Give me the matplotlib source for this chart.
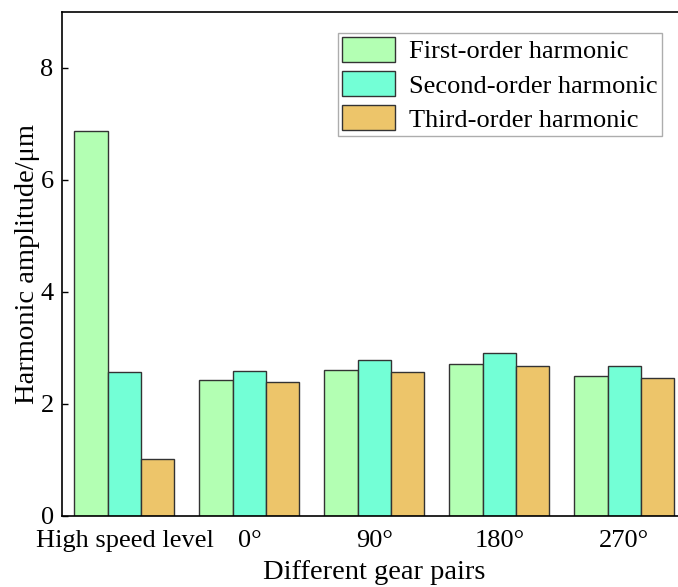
import matplotlib
matplotlib.use("Agg")
import matplotlib.pyplot as plt
import numpy as np

categories = ["High speed level", "0°", "90°", "180°", "270°"]
series_names = ["First-order harmonic", "Second-order harmonic", "Third-order harmonic"]
first = [6.87, 2.42, 2.60, 2.71, 2.50]
second = [2.58, 2.59, 2.79, 2.91, 2.68]
third = [1.02, 2.40, 2.57, 2.68, 2.46]
colors = ["#B3FFB3", "#73FFD6", "#EDC56A"]

plt.rcParams['font.family'] = ['Liberation Serif', 'DejaVu Serif']
plt.rcParams['mathtext.fontset'] = 'stix'

fig = plt.figure(figsize=(6.78, 5.87), dpi=100)
ax = fig.add_axes([62/678, 71/587, 1 - 62/678 + 0.013, (516-12)/587])

x = np.arange(len(categories))
w = 0.8/3
for i, (vals, name, c) in enumerate(zip([first, second, third], series_names, colors)):
    ax.bar(x + (i-1)*w, vals, w, color=c, edgecolor="#333333", linewidth=1.0, label=name)

ax.set_xlim(-0.5, 4.5)
ax.set_ylim(0, 9)
ax.set_yticks([0, 2, 4, 6, 8])
ax.set_xticks(x)
ax.set_xticklabels(categories)
ax.tick_params(axis='y', direction='in', length=4, width=1, labelsize=19, pad=6)
ax.tick_params(axis='x', length=0, labelsize=19, pad=10)
for s in ax.spines.values():
    s.set_linewidth(1.2)
ax.spines['right'].set_visible(False)
ax.set_ylabel("Harmonic amplitude/μm", fontsize=20.5, labelpad=0)
ax.set_xlabel("Different gear pairs", fontsize=20.5, labelpad=6)

leg = ax.legend(loc='upper right', bbox_to_anchor=(0.96, 0.958), fontsize=19,
                frameon=True, fancybox=False, edgecolor="#999999",
                handlelength=2.0, handleheight=1.05, labelspacing=0.3,
                handletextpad=0.55, borderpad=0.15, borderaxespad=0)
leg.get_frame().set_linewidth(1.0)

fig.savefig("out.png", dpi=100)
